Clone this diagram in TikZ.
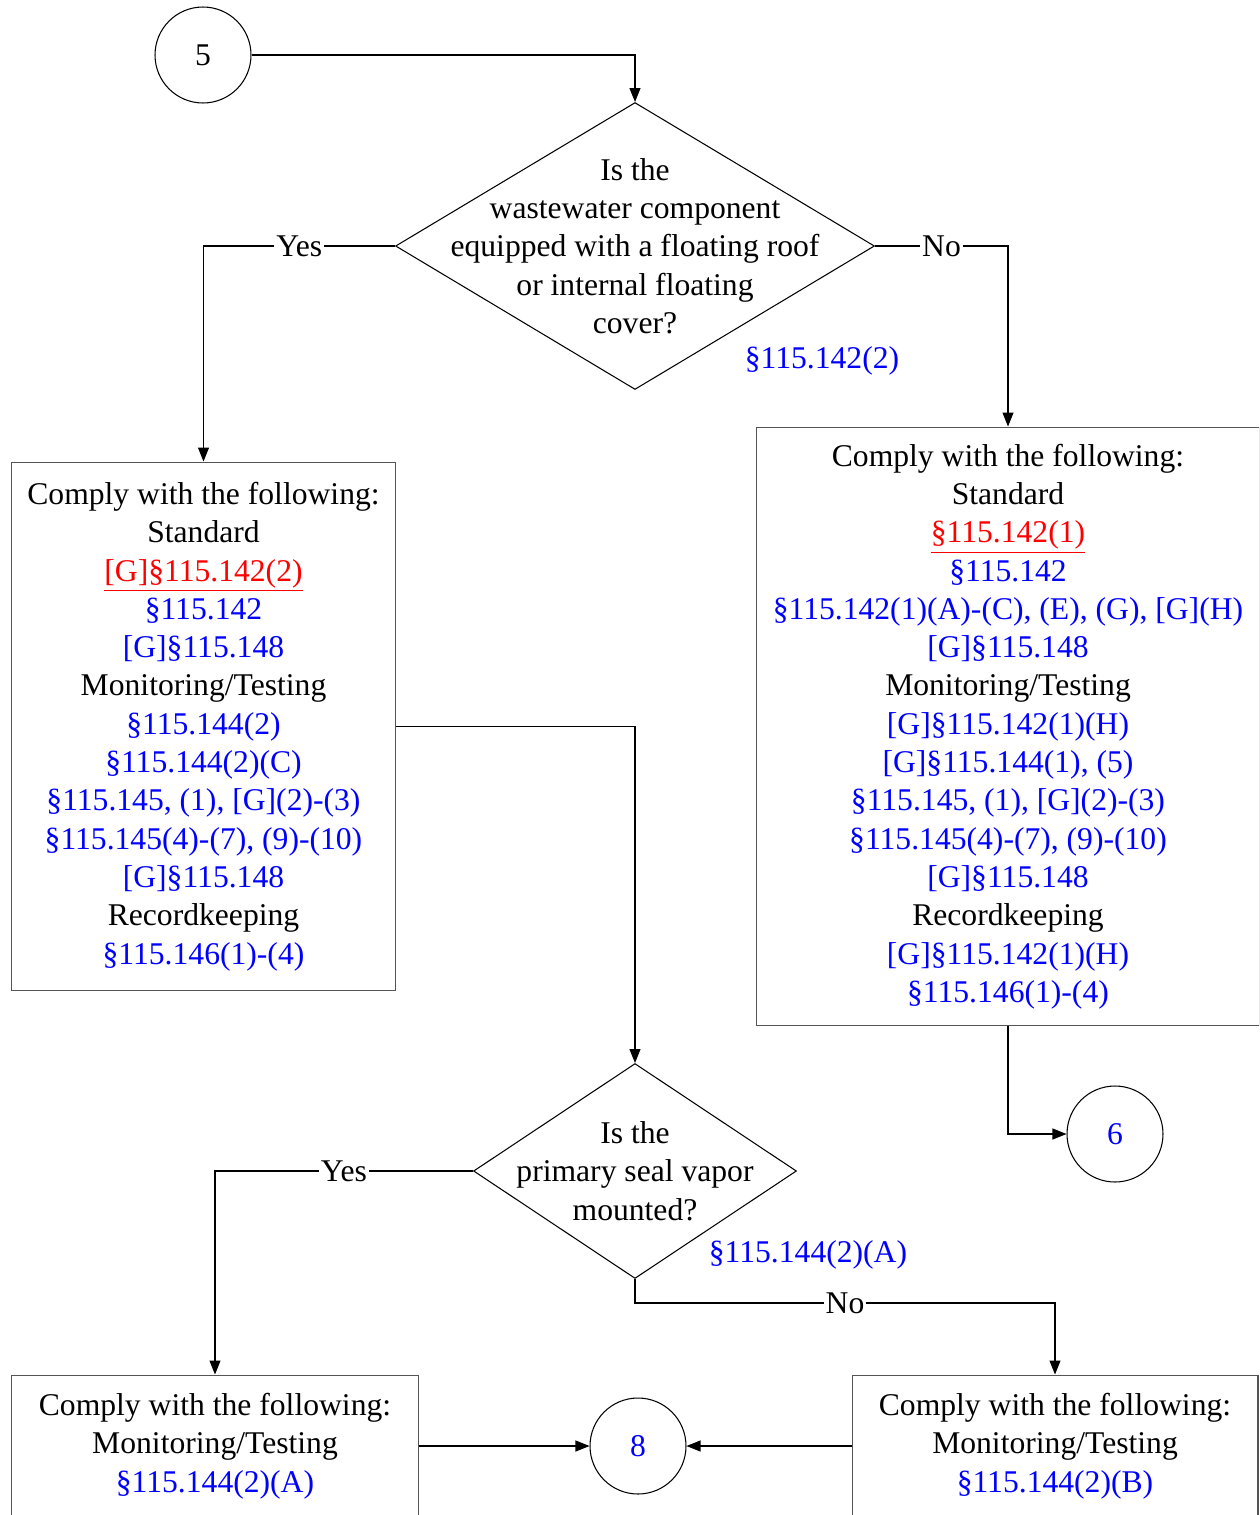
\documentclass[tikz,border=0pt]{standalone}
\usepackage{fontspec}
\setmainfont{Liberation Serif}
\usetikzlibrary{arrows.meta,shapes.geometric}
\usepackage{xcolor}

\definecolor{refblue}{RGB}{0,0,255}
\definecolor{refred}{RGB}{255,0,0}
\definecolor{boxgray}{RGB}{85,85,85}

\newcommand{\blueref}[1]{\textcolor{refblue}{#1}}
\newcommand{\redref}[1]{\textcolor{refred}{\underline{#1}}}

\begin{document}
\begin{tikzpicture}[
    x=0.02cm, y=-0.02cm,
    font=\fontsize{18}{21.8}\selectfont,
    box/.style = {
      shape=rectangle,
      draw=boxgray,
      line width=0.6pt,
      align=center,
      inner sep=2pt
    },
    decision/.style = {
      shape=diamond,
      draw,
      line width=0.6pt,
      inner sep=0pt
    },
    connector/.style = {
      shape=circle,
      draw,
      line width=0.6pt,
      minimum size=1.92cm,
      inner sep=0pt
    },
    lbl/.style = {
      fill=white,
      inner sep=1pt
    },
    arrow/.style = {
      -{Triangle[length=0.28cm,width=0.22cm]},
      line width=0.6pt
    }
  ]

    \useasboundingbox (0,0) rectangle (1259,1515);
    \clip (0,0) rectangle (1259,1515);

    % Entry connector and first question
    \node[connector] (c5) at (203,55) {5};
    \node[decision, minimum width=9.58cm, minimum height=5.74cm] (q1) at (635,246) {};
    \node[align=center] (q1text) at (q1) {Is the\\wastewater component\\equipped with a floating roof\\or internal floating\\cover?};
    \node (q1ref) at (822,361) {\blueref{§115.142(2)}};

    % Floating roof (Yes) box
    \node[box, minimum width=7.7cm, minimum height=10.58cm] (floatbox) at (203.5,726.5) {%
      Comply with the following:\\
      Standard\\
      \redref{[G]§115.142(2)}\\
      \blueref{§115.142}\\
      \blueref{[G]§115.148}\\
      Monitoring/Testing\\
      \blueref{§115.144(2)}\\
      \blueref{§115.144(2)(C)}\\
      \blueref{§115.145, (1), [G](2)-(3)}\\
      \blueref{§115.145(4)-(7), (9)-(10)}\\
      \blueref{[G]§115.148}\\
      Recordkeeping\\
      \blueref{§115.146(1)-(4)}};

    % No floating roof (No) box
    \node[box, minimum width=10.08cm, minimum height=11.98cm] (coverbox) at (1008,726.5) {%
      Comply with the following:\\
      Standard\\
      \redref{§115.142(1)}\\
      \blueref{§115.142}\\
      \blueref{§115.142(1)(A)-(C), (E), (G), [G](H)}\\
      \blueref{[G]§115.148}\\
      Monitoring/Testing\\
      \blueref{[G]§115.142(1)(H)}\\
      \blueref{[G]§115.144(1), (5)}\\
      \blueref{§115.145, (1), [G](2)-(3)}\\
      \blueref{§115.145(4)-(7), (9)-(10)}\\
      \blueref{[G]§115.148}\\
      Recordkeeping\\
      \blueref{[G]§115.142(1)(H)}\\
      \blueref{§115.146(1)-(4)}};

    \node[connector] (c6) at (1115,1134) {\blueref{6}};

    % Second question
    \node[decision, minimum width=6.46cm, minimum height=4.3cm] (q2) at (635,1171) {};
    \node[align=center] (q2text) at (q2) {Is the\\primary seal vapor\\mounted?};
    \node (q2ref) at (808,1255) {\blueref{§115.144(2)(A)}};
    \coordinate (q2no) at (845,1303);

    % Bottom boxes and exit connector
    \node[box, minimum width=8.16cm, minimum height=2.84cm] (vaporbox) at (215,1446) {%
      Comply with the following:\\
      Monitoring/Testing\\
      \blueref{§115.144(2)(A)}};
    \node[box, minimum width=8.12cm, minimum height=2.84cm] (liquidbox) at (1055,1446) {%
      Comply with the following:\\
      Monitoring/Testing\\
      \blueref{§115.144(2)(B)}};
    \node[connector] (c8) at (638,1446) {\blueref{8}};

    % Arrows
    \draw[arrow] (c5.east) -| (q1.north);
    \draw[arrow] (q1.west) -| node[pos=0.25, lbl] {Yes} (floatbox.north);
    \draw[arrow] (q1.east) -| node[pos=0.25, lbl] {No} (coverbox.north);
    \draw[arrow] (coverbox.south) |- (c6.west);
    \draw[arrow] (floatbox.east) -| (q2.north);
    \draw[arrow] (q2.west) -| node[pos=0.25, lbl] {Yes} (vaporbox.north);
    \draw[arrow] (q2.south) |- (q2no) node[lbl] {No} -| (liquidbox.north);
    \draw[arrow] (vaporbox.east) -- (c8.west);
    \draw[arrow] (liquidbox.west) -- (c8.east);

  \end{tikzpicture}
\end{document}
